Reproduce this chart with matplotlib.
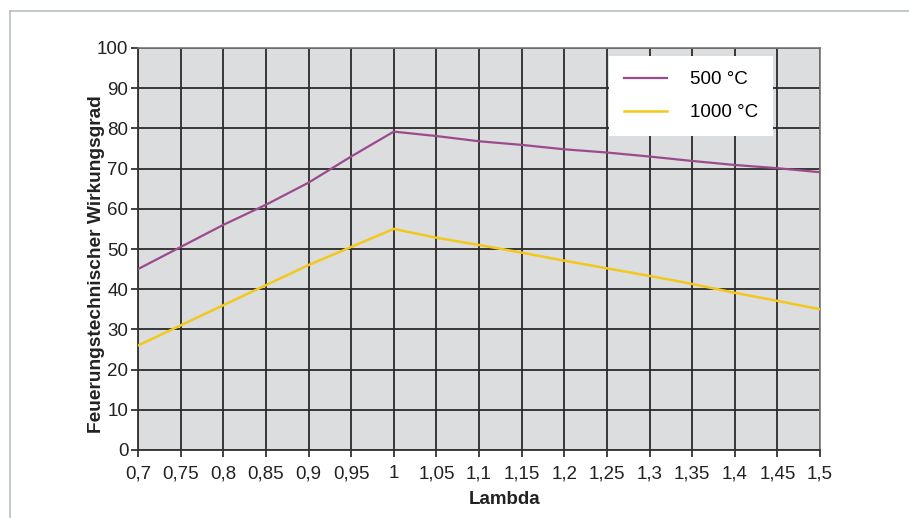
import matplotlib.pyplot as plt
from matplotlib.lines import Line2D

# data
lambda_vals = [0.7, 0.75, 0.8, 0.85, 0.9, 0.95, 1.0, 1.05, 1.1, 1.15, 1.2, 1.25, 1.3, 1.35, 1.4, 1.45, 1.5]
eta_500 = [45, 50.5, 56, 61, 66.5, 73, 79.2, 78.1, 76.8, 75.9, 74.8, 74.0, 73.0, 71.9, 70.9, 70.1, 69.1]
eta_1000 = [26, 31, 36, 41, 46, 50.5, 55.0, 52.8, 51.0, 49.1, 47.1, 45.2, 43.3, 41.3, 39.1, 37.1, 35.0]
x_labels = ['0,7', '0,75', '0,8', '0,85', '0,9', '0,95', '1', '1,05', '1,1', '1,15',
            '1,2', '1,25', '1,3', '1,35', '1,4', '1,45', '1,5']
y_ticks = list(range(0, 101, 10))

plt.rcParams['font.family'] = ['Liberation Sans', 'DejaVu Sans']

fig = plt.figure(figsize=(9.09, 5.18), dpi=100)
ax = fig.add_axes([138 / 909, 68 / 518, 682 / 909, 402 / 518])
ax.set_facecolor('#dcdddf')

# thin frame at top and left of the figure
fig.add_artist(Line2D([10 / 909, 10 / 909], [0, 1 - 11 / 518], color='#b8c0c0', lw=1.2))
fig.add_artist(Line2D([10 / 909, 1], [1 - 11 / 518, 1 - 11 / 518], color='#b8c0c0', lw=1.2))

ax.plot(lambda_vals, eta_500, color='#9c4a8e', lw=1.6, label='500 °C', zorder=3)
ax.plot(lambda_vals, eta_1000, color='#f2c81e', lw=1.8, label='1000 °C', zorder=3)

ax.set_xlim(0.7, 1.5)
ax.set_ylim(0, 100)
ax.set_xticks(lambda_vals)
ax.set_xticklabels(x_labels)
ax.set_yticks(y_ticks)
ax.grid(True, color='#2a2a2a', lw=1.3)
ax.set_axisbelow(True)
ax.tick_params(axis='both', labelsize=13.5, colors='#222222', length=5, width=1.2, pad=2)
ax.tick_params(axis='x', pad=6)

for side in ['left', 'bottom']:
    ax.spines[side].set_color('#333333')
    ax.spines[side].set_linewidth(1.3)
for side in ['right', 'top']:
    ax.spines[side].set_color('#777777')
    ax.spines[side].set_linewidth(1.2)

ax.set_xlabel('Lambda', fontsize=13.5, fontweight='bold', color='#222222')
ax.xaxis.set_label_coords(0.538, -0.103)
ax.set_ylabel('Feuerungstechnischer Wirkungsgrad', fontsize=13.8, fontweight='bold',
              color='#222222')
ax.yaxis.set_label_coords(-0.048, 0.463)

leg = ax.legend(loc='upper right', bbox_to_anchor=(0.931, 0.98), frameon=True,
                fontsize=13.5, fancybox=False, edgecolor='white', facecolor='white',
                framealpha=1, handlelength=2.3, handletextpad=1.2, labelspacing=0.85,
                borderpad=0.8, borderaxespad=0)
leg.get_frame().set_linewidth(0)

fig.savefig('out.png', dpi=100)
